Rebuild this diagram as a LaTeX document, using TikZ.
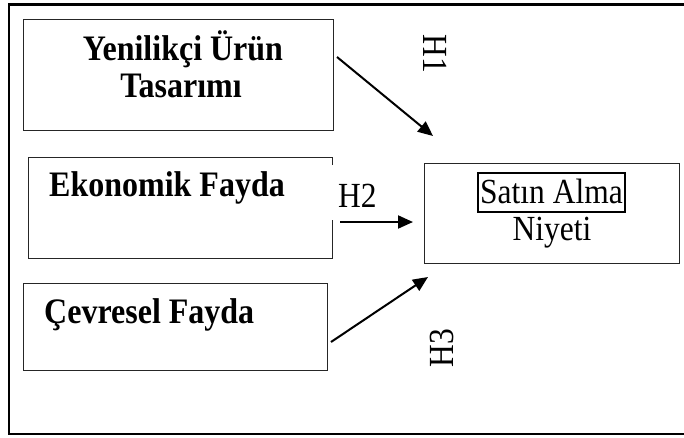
\documentclass[tikz,border=0pt]{standalone}
\usepackage{graphicx}
\usepackage{fontspec}
\setmainfont{Liberation Serif}
\usetikzlibrary{arrows.meta}
\newcommand{\tallt}[1]{\scalebox{1}[1.12]{#1}}
\begin{document}
\begin{tikzpicture}[x=1pt,y=-1pt,
  thinbox/.style={draw=black!85,line width=1pt},
  boldlbl/.style={font=\fontsize{32}{37}\selectfont\bfseries,inner sep=0pt},
  reglbl/.style={font=\fontsize{31.5}{36}\selectfont,inner sep=0pt},
  hyparrow/.style={line width=2pt,-{Triangle[length=15pt,width=13pt]}}]
\useasboundingbox (0,0) rectangle (684,437);
\clip (0,0) rectangle (684,437);
% outer frame
\draw[line width=2.6pt] (9,4.3) rectangle (700,434);
% boxes
\draw[thinbox] (23,19) rectangle (333,130);
\draw[thinbox] (332,165) -- (332,157) -- (28,157) -- (28,258) -- (332,258) -- (332,220);
\draw[thinbox] (23,283) rectangle (327,370);
\draw[thinbox] (424,163) rectangle (679,263);
\draw[line width=1.8pt] (478,173) rectangle (625,212);
% labels
\node[boldlbl,anchor=base] (y1) at (183,60) {\tallt{Yenilikçi Ürün}};
\node[boldlbl,anchor=base] (y2) at (181,97) {\tallt{Tasarımı}};
\node[boldlbl,anchor=base west] (eko) at (49,196) {\tallt{Ekonomik Fayda}};
\node[boldlbl,anchor=base west] (cev) at (44,323) {\tallt{Çevresel Fayda}};
\node[reglbl,anchor=base] (sat) at (551.5,203) {\tallt{Satın Alma}};
\node[reglbl,anchor=base] (niy) at (552,240) {\tallt{Niyeti}};
\node[reglbl,anchor=base west] (h2) at (338,207) {\tallt{H2}};
\node[reglbl,rotate=-90] (h1) at (435,54) {\tallt{H1}};
\node[reglbl,rotate=90] (h3) at (442,348) {\tallt{H3}};
% arrows
\coordinate (a1s) at (337,57);
\coordinate (a1e) at (433,136);
\coordinate (a2s) at (340,222);
\coordinate (a2e) at (413,222);
\coordinate (a3s) at (331,342);
\coordinate (a3e) at (428,277);
\draw[hyparrow] (a1s) -- (a1e);
\draw[hyparrow] (a2s) -- (a2e);
\draw[hyparrow] (a3s) -- (a3e);
\end{tikzpicture}
\end{document}
